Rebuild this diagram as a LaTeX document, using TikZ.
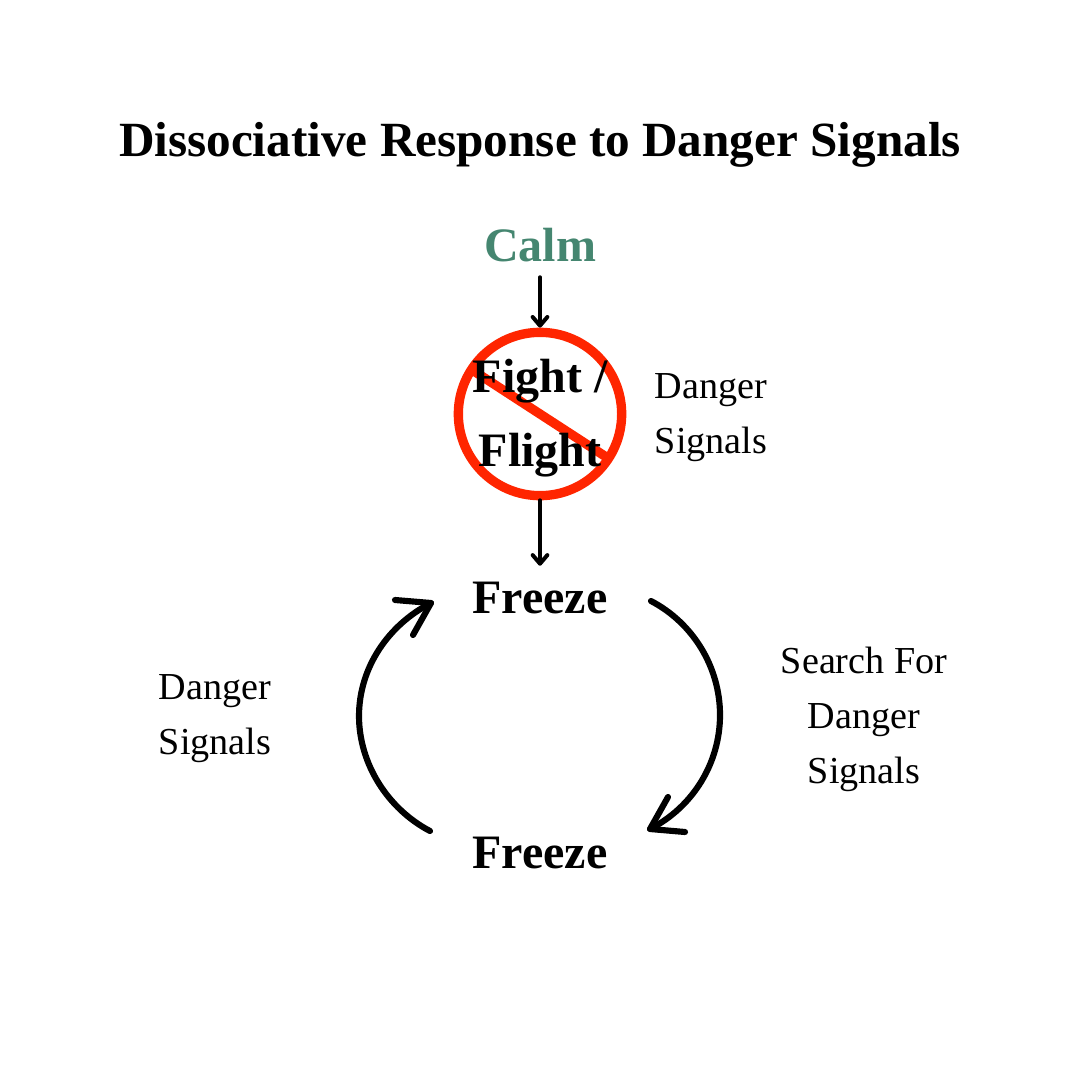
\documentclass[tikz,border=0pt]{standalone}
\usepackage{fontspec}
\setmainfont{Liberation Serif}
\usetikzlibrary{arrows.meta,shapes.geometric}
\definecolor{calmgreen}{HTML}{458670}
\definecolor{stopred}{HTML}{FF2500}
\tikzset{
  x=0.75pt,y=-0.75pt,
  heading/.style={font=\bfseries\fontsize{36.9}{44}\selectfont,inner sep=0pt},
  statelabel/.style={font=\bfseries\fontsize{36}{55.5}\selectfont,align=center,inner sep=0pt,minimum height=48pt},
  sidelabel/.style={font=\fontsize{28.6}{41.2}\selectfont,align=center,inner sep=0pt},
  stoplabel/.style={font=\bfseries\fontsize{36}{55.5}\selectfont,align=center,inner sep=0pt},
  flowarrow/.style={line width=3pt,line cap=round,-{Straight Barb[length=6.5pt,width=11pt,line width=3pt,round]}},
  looparc/.style={line width=4.6pt,line cap=round,line join=round},
  ring/.style={circle,draw=stopred,line width=7pt,minimum size=122.5pt,inner sep=0pt},
  slash/.style={draw=stopred,line width=7pt,line cap=round,shorten <=5pt,shorten >=7pt}
}
\begin{document}
\begin{tikzpicture}
\useasboundingbox (0,0) rectangle (1080,1080);
\node[heading] (title) at (540,145) {Dissociative Response to Danger Signals};
\node[statelabel,text=calmgreen] (calm) at (540,245) {Calm};
\node[ring] (ring) at (540,414) {};
\draw[slash] (ring.147) -- (ring.-33);
\node[stoplabel] (fight) at (540,418) {Fight /\\Flight};
\node[sidelabel] (dangerA) at (711,418) {Danger\\Signals};
\node[statelabel] (freezeA) at (540,598) {Freeze};
\node[statelabel] (freezeB) at (540,853) {Freeze};
\node[sidelabel] (dangerB) at (215,719) {Danger\\Signals};
\node[sidelabel] (search) at (864,719) {Search For\\Danger\\Signals};
\draw[flowarrow] (calm.south) -- (ring.north);
\draw[flowarrow] (ring.south) -- (freezeA.north);
\coordinate (rs) at (651,601);
\coordinate (rm) at (720,715);
\coordinate (re) at (650,829);
\coordinate (ls) at (430,831);
\coordinate (lm) at (359,716);
\coordinate (le) at (431,603);
\draw[looparc] (rs) .. controls (693,623) and (720,667) .. (rm) .. controls (720,763) and (693,807) .. (re);
\draw[looparc] (668,797) -- (re) -- (685,832);
\draw[looparc] (ls) .. controls (388,809) and (359,764) .. (lm) .. controls (359,668) and (388,625) .. (le);
\draw[looparc] (395,600) -- (le) -- (413,635);
\end{tikzpicture}
\end{document}
